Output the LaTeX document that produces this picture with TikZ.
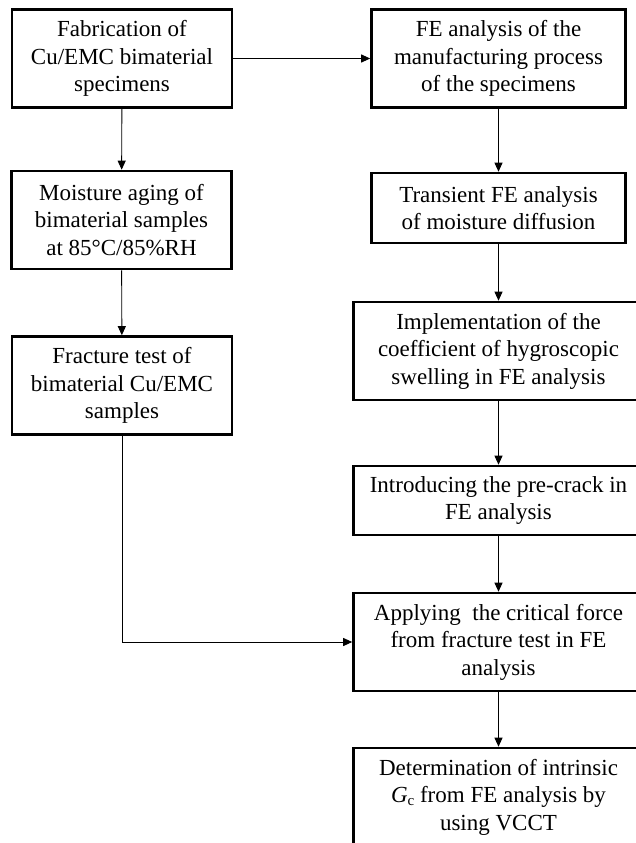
\documentclass[tikz,border=0pt]{standalone}
\usepackage{fontspec}
\setmainfont{Liberation Serif}
\usetikzlibrary{arrows.meta}

\begin{document}
\begin{tikzpicture}[x=1pt,y=-1pt,
  box/.style={draw,line width=2.6pt,align=center,inner sep=0pt,
    minimum height=98pt,font=\fontsize{23}{27.5}\selectfont},
  flow/.style={line width=0.9pt,-{Triangle[length=9pt,width=8pt]}}]
\clip (0,0) rectangle (636,843);

% experiments (left column)
\node[box,minimum width=220pt] (fab) at (122,58.5)
  {Fabrication of\\Cu/EMC bimaterial\\specimens};
\node[box,minimum width=220pt] (aging) at (121.5,220)
  {Moisture aging of\\bimaterial samples\\at 85°C/85\%RH};
\node[box,minimum width=220pt] (fract) at (122,385.5)
  {Fracture test of\\bimaterial Cu/EMC\\samples};

% simulations (right column)
\node[box,minimum width=254pt] (manuf) at (498.5,58.5)
  {FE analysis of the\\manufacturing process\\of the specimens};
\node[box,minimum width=254pt,minimum height=70pt] (diff) at (498.5,208)
  {Transient FE analysis\\of moisture diffusion};
\node[box,minimum width=290pt] (swell) at (498.5,351)
  {Implementation of the\\coefficient of hygroscopic\\swelling in FE analysis};
\node[box,minimum width=290pt,minimum height=69pt] (crack) at (498.5,500.5)
  {Introducing the pre-crack in\\FE analysis};
\node[box,minimum width=290pt] (force) at (498.5,642)
  {Applying\ \ the critical force\\from fracture test in FE\\analysis};
\node[box,minimum width=290pt] (gc) at (498.5,797)
  {Determination of intrinsic\\\textit{G}\raisebox{-0.3ex}{\fontsize{15}{15}\selectfont c} from FE analysis by\\using VCCT};

% connectors
\draw[flow] (fab) -- (manuf);
\draw[flow] (fab) -- (aging);
\draw[flow] (aging) -- (fract);
\foreach \a/\b in {manuf/diff,diff/swell,swell/crack,crack/force,force/gc}
  \draw[flow] (\a) -- (\b);
\draw[flow] (fract.south) |- (force.west);
\end{tikzpicture}
\end{document}
